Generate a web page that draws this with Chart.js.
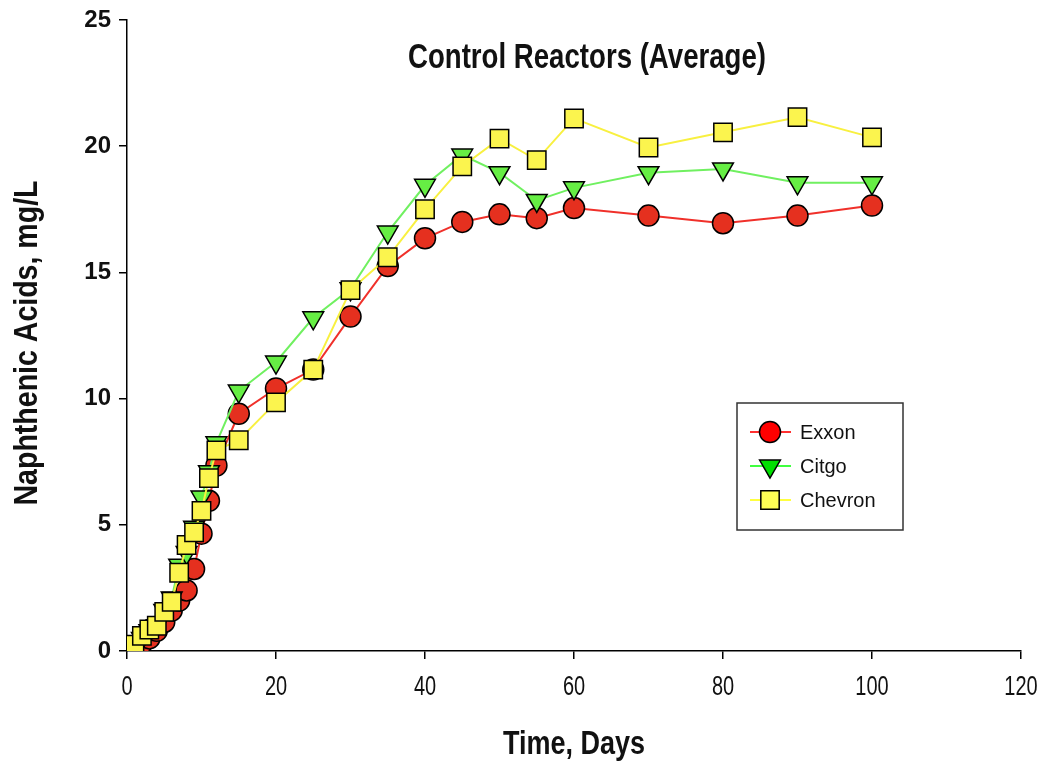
<!DOCTYPE html>
<html>
<head>
<meta charset="utf-8">
<script src="https://cdn.jsdelivr.net/npm/chart.js@4.4.1/dist/chart.umd.min.js"></script>
<style>
html,body{margin:0;padding:0;background:#ffffff;}
#wrap{position:relative;width:1045px;height:766px;}
</style>
</head>
<body>
<div id="wrap"><canvas id="c" width="1045" height="766"></canvas></div>
<script>
const days = [0,1,2,3,4,5,6,7,8,9,10,11,12,15,20,25,30,35,40,45,50,55,60,70,80,90,100];
const exxon = [0,0.1,0.3,0.5,0.8,1.15,1.6,2.0,2.4,3.25,4.65,5.95,7.35,9.4,10.4,11.15,13.25,15.25,16.35,17.0,17.3,17.15,17.55,17.25,16.95,17.25,17.65];
const citgo = [0,0.2,0.5,0.8,1.0,1.6,2.1,3.4,3.9,4.9,6.1,7.1,8.25,10.3,11.45,13.2,14.35,16.6,18.45,19.65,18.95,17.85,18.35,18.95,19.1,18.55,18.55];
const chevron = [0.05,0.25,0.6,0.85,1.0,1.55,1.95,3.1,4.2,4.7,5.55,6.85,7.95,8.35,9.85,11.15,14.3,15.6,17.5,19.2,20.3,19.45,21.1,19.95,20.55,21.15,20.35];
const seriesNames = ["Exxon","Citgo","Chevron"];
const xTicks = [0,20,40,60,80,100,120];
const yTicks = [0,5,10,15,20,25];
const chartTitle = "Control Reactors (Average)";
const xTitle = "Time, Days";
const yTitle = "Naphthenic Acids, mg/L";

const SANS = "'Liberation Sans',Arial,Helvetica,sans-serif";

function pts(vals){ return days.map((d,i)=>({x:d,y:vals[i]})); }

// draw condensed text: fit to a target width by horizontal scaling
function condensedText(ctx, text, x, y, font, width, rot){
  ctx.save();
  ctx.font = font;
  ctx.textAlign = "center";
  ctx.textBaseline = "middle";
  ctx.fillStyle = "#111";
  const w = ctx.measureText(text).width;
  ctx.translate(x, y);
  if (rot) ctx.rotate(rot);
  ctx.scale(width / w, 1);
  ctx.fillText(text, 0, 0);
  ctx.restore();
}

const textPlugin = {
  id:'condensedTexts',
  afterDraw(chart){
    const ctx = chart.ctx;
    const xs = chart.scales.x;
    condensedText(ctx, chartTitle, 587, 58, "bold 35px " + SANS, 358, 0);
    condensedText(ctx, xTitle, 574, 745, "bold 34px " + SANS, 142, 0);
    condensedText(ctx, yTitle, 28, 343, "bold 34px " + SANS, 325, -Math.PI/2);
    xTicks.forEach(v => {
      const s = String(v);
      ctx.save();
      ctx.font = "27px " + SANS;
      const w = ctx.measureText(s).width;
      ctx.restore();
      condensedText(ctx, s, xs.getPixelForValue(v), 688, "27px " + SANS, w * 0.74, 0);
    });
  }
};

const legendPlugin = {
  id:'boxLegend',
  afterDraw(chart){
    const ctx = chart.ctx;
    const bx = 737, by = 403, bw = 166, bh = 127;
    ctx.save();
    ctx.fillStyle = "#ffffff";
    ctx.fillRect(bx, by, bw, bh);
    ctx.strokeStyle = "#333";
    ctx.lineWidth = 1.5;
    ctx.strokeRect(bx, by, bw, bh);
    const rows = [432, 466, 500];
    chart.data.datasets.forEach((ds, i) => {
      const y = rows[i];
      ctx.strokeStyle = ds.legendLine;
      ctx.lineWidth = 2;
      ctx.beginPath(); ctx.moveTo(750, y); ctx.lineTo(791, y); ctx.stroke();
      ctx.fillStyle = ds.legendFill;
      ctx.strokeStyle = "#000";
      ctx.lineWidth = 1.5;
      Chart.helpers.drawPoint(ctx, {pointStyle: ds.pointStyle, rotation: ds.pointRotation || 0, radius: ds.pointRadius, borderWidth: 1.5}, 770, y);
      ctx.fillStyle = "#111";
      ctx.font = "20px " + SANS;
      ctx.textAlign = "left";
      ctx.textBaseline = "middle";
      ctx.fillText(ds.label, 800, y + 1);
    });
    ctx.restore();
  }
};

new Chart(document.getElementById('c'), {
  type: 'line',
  data: {
    datasets: [
      {label: seriesNames[0], data: pts(exxon), order: 3,
       borderColor: '#f0302a', borderWidth: 2, backgroundColor: '#e5301f',
       pointStyle: 'circle', pointRadius: 10.5, pointBorderColor: '#000', pointBorderWidth: 1.5,
       pointBackgroundColor: '#e5301f', legendLine: '#ff3030', legendFill: '#ff0000'},
      {label: seriesNames[1], data: pts(citgo), order: 2,
       borderColor: '#70f060', borderWidth: 2, backgroundColor: '#66ee44',
       pointStyle: 'triangle', pointRotation: 180, pointRadius: 12, pointBorderColor: '#000', pointBorderWidth: 1.5,
       pointBackgroundColor: '#66ee44', legendLine: '#40ff40', legendFill: '#00e000'},
      {label: seriesNames[2], data: pts(chevron), order: 1,
       borderColor: '#f8f040', borderWidth: 2, backgroundColor: '#fbf44e',
       pointStyle: 'rect', pointRadius: 13, pointBorderColor: '#000', pointBorderWidth: 1.5,
       pointBackgroundColor: '#fbf44e', legendLine: '#ffff40', legendFill: '#ffff55'}
    ]
  },
  options: {
    responsive: false,
    animation: false,
    layout: {padding: {top: 20, right: 24, left: 0, bottom: 0}},
    plugins: {legend: {display: false}, title: {display: false}, tooltip: {enabled: false}},
    elements: {line: {tension: 0}},
    scales: {
      x: {
        type: 'linear', min: 0, max: 120,
        afterFit(s){ s.height = 115; s.paddingLeft = 0; s.paddingRight = 0; },
        afterBuildTicks(s){ s.ticks = xTicks.map(v=>({value:v})); },
        border: {display: true, color: '#000', width: 1.5},
        grid: {display: true, drawOnChartArea: false, drawTicks: true, tickLength: 8, color: '#000', lineWidth: 1.5},
        ticks: {display: false},
        title: {display: false}
      },
      y: {
        type: 'linear', min: 0, max: 25,
        afterFit(s){ s.width = 127; s.paddingTop = 0; s.paddingBottom = 0; },
        afterBuildTicks(s){ s.ticks = yTicks.map(v=>({value:v})); },
        border: {display: true, color: '#000', width: 1.5},
        grid: {display: true, drawOnChartArea: false, drawTicks: true, tickLength: 8, color: '#000', lineWidth: 1.5},
        ticks: {color: '#111', font: {family: SANS, size: 24, weight: 'bold'}, padding: 8},
        title: {display: false}
      }
    }
  },
  plugins: [textPlugin, legendPlugin]
});
</script>
</body>
</html>
